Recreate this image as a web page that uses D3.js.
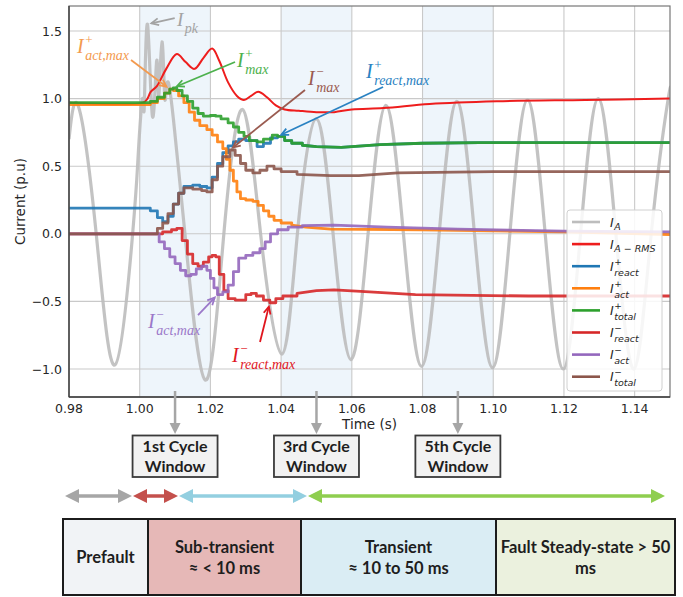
<!DOCTYPE html>
<html>
<head>
<meta charset="utf-8">
<script src="https://cdn.jsdelivr.net/npm/d3@7"></script>
<style>
  body { margin: 0; background: #fff; }
  svg { display: block; }
</style>
</head>
<body>
<svg id="chart" width="683" height="597"></svg>
<script>
// ---------- series: [time (s), current (p.u)] ----------
const iA = [
  [0.98, 0.70], [0.9827, 0.94], [0.9877, 0.0], [0.9930, -0.97], [0.9980, 0.0],
  [0.9995, 0.55], [1.0008, 1.0], [1.0013, 0.95], [1.0022, 1.55], [1.0036, 0.87],
  [1.0048, 1.28], [1.0054, 1.02], [1.0063, 1.42], [1.0071, 1.00], [1.0081, 1.12],
  [1.0105, 0.60], [1.0128, 0.0], [1.0185, -1.08], [1.0238, 0.0], [1.0291, 0.92],
  [1.0342, 0.0], [1.0402, -0.89], [1.0446, 0.0], [1.0499, 0.85], [1.0547, 0.0],
  [1.0597, -0.93], [1.0646, 0.0], [1.0696, 0.95], [1.0746, 0.0], [1.0797, -0.98],
  [1.0847, 0.0], [1.0897, 0.98], [1.0947, 0.0], [1.0998, -0.99], [1.1047, 0.0],
  [1.1097, 0.99], [1.1147, 0.0], [1.1198, -1.0], [1.1247, 0.0], [1.1297, 1.0],
  [1.1347, 0.0], [1.1398, -1.0], [1.1447, 0.0], [1.1495, 1.0], [1.15, 0.99]
];
const iArms = [
  [0.98, 0.97], [1.001, 0.97], [1.0022, 1.0], [1.0031, 1.05], [1.0048, 1.09],
  [1.0075, 1.22], [1.0105, 1.33], [1.0130, 1.27], [1.0155, 1.22], [1.018, 1.30],
  [1.0205, 1.37], [1.0225, 1.28], [1.025, 1.12], [1.0275, 1.02], [1.0295, 0.99],
  [1.0315, 1.02], [1.0335, 1.05], [1.036, 1.01], [1.0385, 0.95], [1.041, 0.92],
  [1.045, 0.91], [1.050, 0.90], [1.055, 0.90], [1.060, 0.92], [1.069, 0.93],
  [1.082, 0.96], [1.101, 0.98], [1.126, 0.99], [1.15, 1.0]
];
const iReactPos = [
  [0.98, 0.19], [1.001, 0.19], [1.003, 0.17], [1.005, 0.12], [1.0065, 0.09],
  [1.008, 0.13], [1.0095, 0.22], [1.011, 0.30], [1.0125, 0.35], [1.015, 0.36],
  [1.017, 0.35], [1.019, 0.34], [1.0205, 0.42], [1.022, 0.52], [1.0235, 0.60],
  [1.025, 0.65], [1.0265, 0.68], [1.028, 0.70], [1.030, 0.69], [1.0332, 0.645],
  [1.035, 0.67], [1.037, 0.71], [1.039, 0.72], [1.041, 0.69], [1.043, 0.67],
  [1.046, 0.655], [1.050, 0.645], [1.057, 0.64], [1.068, 0.66], [1.080, 0.67],
  [1.096, 0.675], [1.15, 0.675]
];
const iActPos = [
  [0.98, 0.955], [1.001, 0.955], [1.003, 0.97], [1.005, 1.0], [1.007, 1.04],
  [1.0085, 1.07], [1.0095, 1.06], [1.011, 1.02], [1.0125, 0.97], [1.014, 0.90],
  [1.0155, 0.84], [1.017, 0.80], [1.019, 0.77], [1.0205, 0.73], [1.022, 0.68],
  [1.0235, 0.63], [1.0245, 0.55], [1.0255, 0.47], [1.0265, 0.39], [1.0275, 0.31],
  [1.0285, 0.26], [1.030, 0.25], [1.032, 0.24], [1.0335, 0.21], [1.035, 0.17],
  [1.0365, 0.13], [1.038, 0.10], [1.040, 0.08], [1.043, 0.065], [1.047, 0.05],
  [1.054, 0.035], [1.08, 0.03], [1.12, 0.015], [1.15, -0.005]
];
const iTotalPos = [
  [0.98, 0.97], [1.001, 0.97], [1.003, 0.98], [1.005, 1.01], [1.007, 1.04],
  [1.0085, 1.07], [1.0095, 1.08], [1.0105, 1.06], [1.012, 1.02], [1.0135, 0.98],
  [1.015, 0.93], [1.0165, 0.89], [1.018, 0.87], [1.020, 0.875], [1.0215, 0.87],
  [1.023, 0.85], [1.025, 0.82], [1.0265, 0.79], [1.028, 0.75], [1.0295, 0.72],
  [1.031, 0.69], [1.0332, 0.68], [1.035, 0.70], [1.0375, 0.73], [1.039, 0.72],
  [1.041, 0.69], [1.043, 0.67], [1.046, 0.655], [1.050, 0.645], [1.057, 0.64],
  [1.068, 0.66], [1.080, 0.67], [1.096, 0.675], [1.15, 0.675]
];
const iReactNeg = [
  [0.98, 0.0], [1.003, 0.0], [1.0065, 0.015], [1.009, 0.03], [1.0105, 0.04],
  [1.012, -0.05], [1.0135, -0.15], [1.015, -0.22], [1.0165, -0.24], [1.018, -0.21],
  [1.0195, -0.17], [1.0205, -0.16], [1.0215, -0.17], [1.0225, -0.30], [1.0238, -0.42],
  [1.025, -0.48], [1.027, -0.49], [1.0285, -0.49], [1.030, -0.45], [1.0315, -0.44],
  [1.033, -0.46], [1.035, -0.49], [1.0368, -0.51], [1.0385, -0.48], [1.0405, -0.46],
  [1.0445, -0.44], [1.05, -0.42], [1.055, -0.415], [1.065, -0.43], [1.078, -0.45],
  [1.11, -0.46], [1.15, -0.46]
];
const iActNeg = [
  [0.98, 0.0], [1.003, 0.0], [1.0055, -0.06], [1.007, -0.11], [1.0085, -0.17],
  [1.010, -0.22], [1.0115, -0.27], [1.013, -0.31], [1.0145, -0.30], [1.016, -0.26],
  [1.0175, -0.24], [1.019, -0.27], [1.020, -0.33], [1.021, -0.40], [1.022, -0.45],
  [1.0235, -0.43], [1.025, -0.38], [1.0265, -0.28], [1.028, -0.18], [1.030, -0.16],
  [1.032, -0.14], [1.034, -0.11], [1.0355, -0.06], [1.037, 0.0], [1.039, 0.03],
  [1.042, 0.05], [1.046, 0.06], [1.055, 0.065], [1.07, 0.05], [1.09, 0.035],
  [1.12, 0.02], [1.15, 0.015]
];
const iTotalNeg = [
  [0.98, 0.0], [1.003, 0.0], [1.005, 0.04], [1.0065, 0.08], [1.008, 0.15],
  [1.0095, 0.22], [1.011, 0.30], [1.0125, 0.34], [1.015, 0.33], [1.0175, 0.32],
  [1.019, 0.31], [1.0205, 0.40], [1.022, 0.50], [1.0235, 0.57], [1.0255, 0.62],
  [1.027, 0.58], [1.0285, 0.52], [1.030, 0.47], [1.032, 0.45], [1.034, 0.47],
  [1.036, 0.50], [1.038, 0.48], [1.040, 0.46], [1.0445, 0.44], [1.054, 0.43],
  [1.062, 0.43], [1.073, 0.45], [1.10, 0.46], [1.15, 0.46]
];

// ---------- axes ----------
const xTicks = [0.98, 1.00, 1.02, 1.04, 1.06, 1.08, 1.10, 1.12, 1.14];
const yTicks = [-1.0, -0.5, 0.0, 0.5, 1.0, 1.5];
const cycleWindows = [[1.00, 1.02], [1.04, 1.06], [1.08, 1.10]];
const cycleLabels = [["1st Cycle", "Window"], ["3rd Cycle", "Window"], ["5th Cycle", "Window"]];

// ---------- stages of the fault ----------
const phaseNames = [["Prefault"], ["Sub-transient", "≈ < 10 ms"], ["Transient", "≈ 10 to 50 ms"], ["Fault Steady-state > 50", "ms"]];

// ---------- drawing ----------
const svg = d3.select("#chart");
const W = 683;
const plot = { left: 69, right: 670, top: 6, bottom: 397 };

const x = d3.scaleLinear().domain([0.98, 1.15]).range([plot.left, plot.right]);
const y = d3.scaleLinear().domain([-1.207, 1.685]).range([plot.bottom, plot.top]);

svg.append("rect").attr("width", W).attr("height", 597).attr("fill", "#fff");

svg.append("defs").append("clipPath").attr("id", "plotClip")
  .append("rect")
  .attr("x", plot.left).attr("y", plot.top)
  .attr("width", plot.right - plot.left).attr("height", plot.bottom - plot.top);

// cycle window bands
svg.append("g").selectAll("rect").data(cycleWindows).join("rect")
  .attr("x", d => x(d[0])).attr("y", plot.top)
  .attr("width", d => x(d[1]) - x(d[0])).attr("height", plot.bottom - plot.top)
  .attr("fill", "#eef5fb");

// grid
const grid = svg.append("g").attr("stroke", "#c9c9c9").attr("stroke-width", 1.1);
grid.selectAll("line.v").data(xTicks).join("line").attr("class", "v")
  .attr("x1", d => x(d)).attr("x2", d => x(d))
  .attr("y1", plot.top).attr("y2", plot.bottom);
grid.selectAll("line.h").data(yTicks).join("line").attr("class", "h")
  .attr("x1", plot.left).attr("x2", plot.right)
  .attr("y1", d => y(d)).attr("y2", d => y(d));

// series: the sequence components are sampled, so the transient part is drawn as steps
const stepUntil = 1.046;
const line = d3.line().x(d => x(d[0])).y(d => y(d[1]));
const series = [
  { data: iA, color: "#bdbdbd", width: 3.2, curve: d3.curveNatural, opacity: 0.9 },
  { data: iArms, color: "#ee1d1d", width: 2.0, curve: d3.curveCatmullRom, opacity: 1 },
  { data: iReactPos, color: "#1f77b4", width: 2.8, stepped: true, opacity: 0.9 },
  { data: iActPos, color: "#ff7f0e", width: 2.8, stepped: true, opacity: 0.9 },
  { data: iTotalPos, color: "#2ca02c", width: 2.8, stepped: true, opacity: 0.9 },
  { data: iReactNeg, color: "#d62728", width: 2.8, stepped: true, opacity: 0.9 },
  { data: iActNeg, color: "#9467bd", width: 2.8, stepped: true, opacity: 0.9 },
  { data: iTotalNeg, color: "#8c564b", width: 2.8, stepped: true, opacity: 0.9 }
];
const lines = svg.append("g").attr("clip-path", "url(#plotClip)");
series.forEach(s => {
  let d;
  if (s.stepped) {
    const head = s.data.filter(p => p[0] <= stepUntil);
    const tail = s.data.filter(p => p[0] >= head[head.length - 1][0]);
    d = line.curve(d3.curveStepAfter)(head) + line.curve(d3.curveLinear)(tail).replace(/^M/, "L");
  } else {
    d = line.curve(s.curve)(s.data);
  }
  lines.append("path")
    .attr("d", d)
    .attr("fill", "none")
    .attr("stroke", s.color)
    .attr("stroke-width", s.width)
    .attr("stroke-opacity", s.opacity)
    .attr("stroke-linejoin", "round");
});

// frame
svg.append("rect")
  .attr("x", plot.left).attr("y", plot.top)
  .attr("width", plot.right - plot.left).attr("height", plot.bottom - plot.top)
  .attr("fill", "none").attr("stroke", "#777").attr("stroke-width", 1.2);
svg.append("line").attr("x1", plot.left).attr("x2", plot.left)
  .attr("y1", plot.top).attr("y2", plot.bottom).attr("stroke", "#3c3c3c").attr("stroke-width", 1.3);
svg.append("line").attr("x1", plot.left).attr("x2", plot.right)
  .attr("y1", plot.bottom).attr("y2", plot.bottom).attr("stroke", "#3c3c3c").attr("stroke-width", 1.3);

// tick labels
const fmtTick = v => (v < 0 ? "\u2212" : "") + Math.abs(v).toFixed(1);
svg.append("g").selectAll("text").data(xTicks).join("text")
  .attr("x", d => x(d)).attr("y", plot.bottom + 16)
  .attr("text-anchor", "middle")
  .attr("font-family", "DejaVu Sans").attr("font-size", 12.5).attr("fill", "#262626")
  .text(d => d.toFixed(2));
svg.append("g").selectAll("text").data(yTicks).join("text")
  .attr("x", plot.left - 7).attr("y", d => y(d) + 4.5)
  .attr("text-anchor", "end")
  .attr("font-family", "DejaVu Sans").attr("font-size", 12.5).attr("fill", "#262626")
  .text(fmtTick);

svg.append("text")
  .attr("transform", `translate(25,${(plot.top + plot.bottom) / 2}) rotate(-90)`)
  .attr("text-anchor", "middle")
  .attr("font-family", "DejaVu Sans").attr("font-size", 13.5).attr("fill", "#262626")
  .text("Current  (p.u)");
svg.append("text")
  .attr("x", (plot.left + plot.right) / 2).attr("y", plot.bottom + 32)
  .attr("text-anchor", "middle")
  .attr("font-family", "DejaVu Sans").attr("font-size", 13.5).attr("fill", "#262626")
  .text("Time (s)");

// math-style label in one text element: italic I, then superscript and subscript stacked
function mathLabel(g, px, py, o) {
  const t = g.append("text").attr("x", px).attr("y", py)
    .attr("font-family", o.font).attr("fill", o.color);
  t.append("tspan").attr("font-style", "italic").attr("font-size", o.size).text("I");
  let back = 0;
  if (o.sup) {
    const sp = t.append("tspan").attr("dx", o.gap).attr("dy", -o.rise)
      .attr("font-size", o.supSize).text(o.sup);
    back = sp.node().getComputedTextLength();
  }
  if (o.sub) {
    t.append("tspan")
      .attr("dx", o.sup ? -back : o.gap)
      .attr("dy", (o.sup ? o.rise : 0) + o.drop)
      .attr("font-style", "italic").attr("font-size", o.subSize).text(o.sub);
  }
}

// annotations of the extreme values (text and arrow tails in data units)
const annotations = [
  { data: iA, pick: "max", sup: "", sub: "pk", color: "#a3a3a3", text: [1.01055, 1.54], tail: [1.0099, 1.596], size: 19 },
  { data: iActPos, pick: "max", sup: "+", sub: "act,max", color: "#f39a4f", text: [0.98226, 1.337], tail: [0.99754, 1.285], size: 20 },
  { data: iTotalPos, pick: "max", sup: "+", sub: "max", color: "#4db14d", text: [1.02752, 1.236], tail: [1.02696, 1.271], size: 20 },
  { data: iTotalNeg, pick: "max", sup: "\u2212", sub: "max", color: "#9a5b50", text: [1.04761, 1.101], tail: [1.04676, 1.064], size: 20 },
  { data: iReactPos, pick: "max", sup: "+", sub: "react,max", color: "#2a82c2", text: [1.06402, 1.152], tail: [1.06883, 1.086], size: 20 },
  { data: iActNeg, pick: "min", sup: "\u2212", sub: "act,max", color: "#9b78c9", text: [1.00235, -0.697], tail: [1.01649, -0.601], size: 20 },
  { data: iReactNeg, pick: "min", sup: "\u2212", sub: "react,max", color: "#e0161e", text: [1.02611, -0.948], tail: [1.03403, -0.800], size: 20 }
];
const ann = svg.append("g");
annotations.forEach(a => {
  const pt = a.pick === "max" ? a.data[d3.maxIndex(a.data, d => d[1])] : a.data[d3.minIndex(a.data, d => d[1])];
  const tx = x(pt[0]), ty = y(pt[1]);
  const sx0 = x(a.tail[0]), sy0 = y(a.tail[1]);
  const ang = Math.atan2(ty - sy0, tx - sx0);
  const shrink = 4;
  const ex = tx - shrink * Math.cos(ang), ey = ty - shrink * Math.sin(ang);
  ann.append("line").attr("x1", sx0).attr("y1", sy0).attr("x2", ex).attr("y2", ey)
    .attr("stroke", a.color).attr("stroke-width", 1.8);
  const hl = 8, spread = 0.45;
  const head = [
    [ex - hl * Math.cos(ang - spread), ey - hl * Math.sin(ang - spread)],
    [ex, ey],
    [ex - hl * Math.cos(ang + spread), ey - hl * Math.sin(ang + spread)]
  ];
  ann.append("path").attr("d", d3.line()(head)).attr("fill", "none")
    .attr("stroke", a.color).attr("stroke-width", 1.8).attr("stroke-linejoin", "miter");
  mathLabel(ann, x(a.text[0]), y(a.text[1]), {
    font: "Liberation Serif", size: a.size, supSize: 13, subSize: 14, color: a.color,
    sup: a.sup, sub: a.sub, rise: 8.6, drop: 7, gap: 1.5
  });
});

// legend
const legendItems = [
  { color: "#bdbdbd", sub: "A", sup: "" },
  { color: "#ee1d1d", sub: "A \u2212 RMS", sup: "" },
  { color: "#1f77b4", sub: "react", sup: "+" },
  { color: "#ff7f0e", sub: "act", sup: "+" },
  { color: "#2ca02c", sub: "total", sup: "+" },
  { color: "#d62728", sub: "react", sup: "\u2212" },
  { color: "#9467bd", sub: "act", sup: "\u2212" },
  { color: "#8c564b", sub: "total", sup: "\u2212" }
];
const lg = svg.append("g");
lg.append("rect").attr("x", 567).attr("y", 210).attr("width", 95).attr("height", 181)
  .attr("rx", 3).attr("fill", "#fff").attr("fill-opacity", 0.85)
  .attr("stroke", "#d0d0d0").attr("stroke-width", 1);
legendItems.forEach((it, i) => {
  const cy = 222 + i * 22.1;
  lg.append("line").attr("x1", 572).attr("x2", 600).attr("y1", cy).attr("y2", cy)
    .attr("stroke", it.color).attr("stroke-width", 2.6);
  mathLabel(lg, 610, cy + 4.5, {
    font: "DejaVu Sans", size: 12.5, supSize: 9, subSize: 9.5, color: "#262626",
    sup: it.sup, sub: it.sub, rise: 6.2, drop: it.sup ? 4.8 : 3.5, gap: 0.5
  });
});

// ---------- stage diagram below the axis ----------
const boxFont = "Lato";
const arrowGray = "#a6a6a6";
const cyc = svg.append("g");
cycleWindows.forEach((w, i) => {
  const cx = x((w[0] + w[1]) / 2);
  cyc.append("line").attr("x1", cx).attr("x2", cx).attr("y1", 391).attr("y2", 424)
    .attr("stroke", arrowGray).attr("stroke-width", 2.5);
  cyc.append("path").attr("d", d3.line()([[cx - 5.5, 423], [cx + 5.5, 423], [cx, 434]]))
    .attr("fill", arrowGray);
  cyc.append("rect").attr("x", cx - 42.5).attr("y", 435.5).attr("width", 85).attr("height", 41.5)
    .attr("fill", "#f2f2f2").attr("stroke", "#3a3a3a").attr("stroke-width", 1.8);
  cycleLabels[i].forEach((t, j) => {
    cyc.append("text").attr("x", cx).attr("y", 452 + j * 20)
      .attr("text-anchor", "middle").attr("font-family", boxFont).attr("font-weight", 700)
      .attr("font-size", 16).attr("fill", "#1e1e1e").text(t);
  });
});

// double-headed stage arrows
const stageArrows = [
  { x0: 65, x1: 132, color: "#a6a6a6" },
  { x0: 133, x1: 178, color: "#c4504c" },
  { x0: 179, x1: 307, color: "#93cfe0" },
  { x0: 308, x1: 665, color: "#8fce4f" }
];
const arrowY = 496, headL = 14, headW = 7;
const sa = svg.append("g");
stageArrows.forEach(a => {
  sa.append("line").attr("x1", a.x0 + headL - 2).attr("x2", a.x1 - headL + 2)
    .attr("y1", arrowY).attr("y2", arrowY).attr("stroke", a.color).attr("stroke-width", 3.5);
  sa.append("path").attr("d", d3.line()([[a.x0, arrowY], [a.x0 + headL, arrowY - headW], [a.x0 + headL, arrowY + headW]]) + "Z")
    .attr("fill", a.color);
  sa.append("path").attr("d", d3.line()([[a.x1, arrowY], [a.x1 - headL, arrowY - headW], [a.x1 - headL, arrowY + headW]]) + "Z")
    .attr("fill", a.color);
});

// stage boxes
const phaseEdges = [63, 148, 301, 496, 675];
const phaseFills = ["#f1f3f6", "#e6b8b7", "#daedf4", "#ebf1de"];
const pb = svg.append("g");
phaseNames.forEach((lines, i) => {
  const x0 = phaseEdges[i], x1 = phaseEdges[i + 1];
  pb.append("rect").attr("x", x0).attr("y", 519).attr("width", x1 - x0).attr("height", 76)
    .attr("fill", phaseFills[i]).attr("stroke", "#1c1c1c").attr("stroke-width", 2);
  const cx = (x0 + x1) / 2;
  const baseY = lines.length === 1 ? 563 : 553;
  lines.forEach((t, j) => {
    pb.append("text").attr("x", cx).attr("y", baseY + j * 21)
      .attr("text-anchor", "middle").attr("font-family", boxFont).attr("font-weight", 700)
      .attr("font-size", 16.5).attr("fill", "#1e1e1e").text(t);
  });
});
</script>
</body>
</html>
